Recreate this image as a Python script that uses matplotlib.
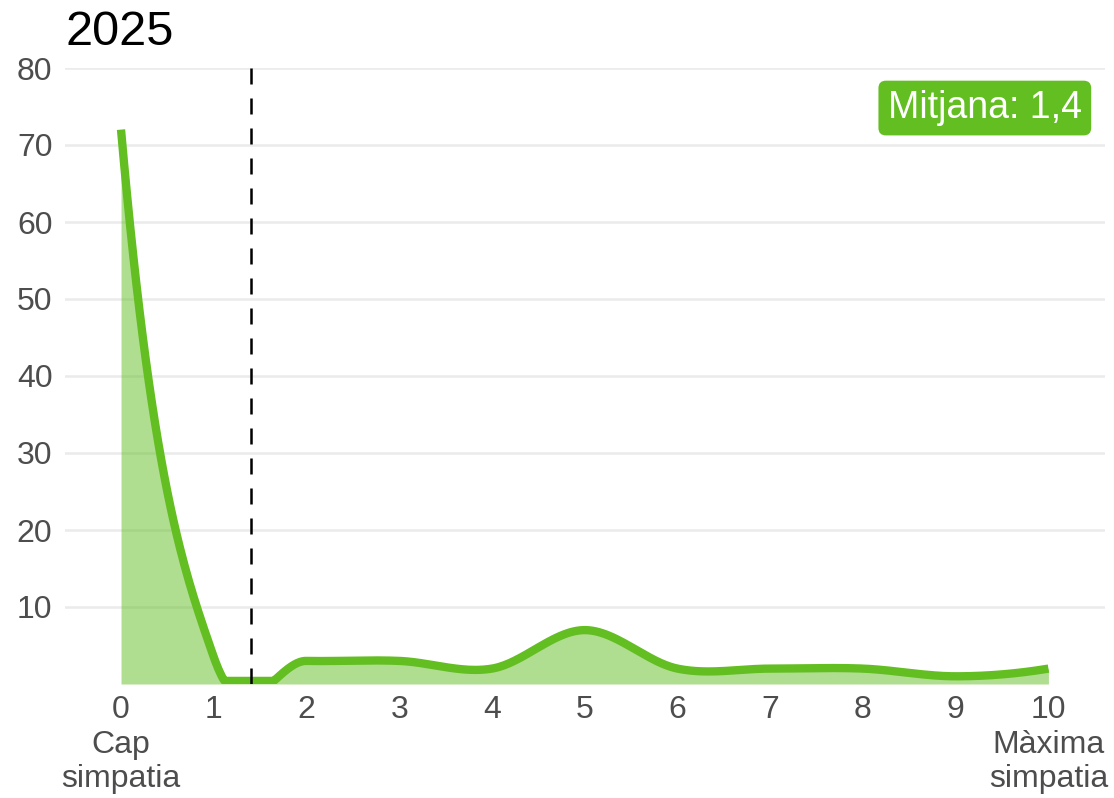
import matplotlib.pyplot as plt
import numpy as np

plt.rcParams['font.family'] = ['Liberation Sans', 'DejaVu Sans']

# Sympathy score (0-10) and % of respondents
scores = np.arange(0, 11)
percent = np.array([72, 3.5, 3, 3, 2, 7, 2, 2, 2, 1, 2], dtype=float)
mean_score = 1.4
mean_label = "Mitjana: 1,4"
title = "2025"
tick_labels = ["0\nCap\nsimpatia", "1", "2", "3", "4", "5", "6", "7", "8", "9", "10\nMàxima\nsimpatia"]
y_ticks = [10, 20, 30, 40, 50, 60, 70, 80]

green = '#63BE22'
grid_col = '#EBEBEB'
text_col = '#4D4D4D'


def catmull_rom(xs, ys, n_per=60):
    # Catmull-Rom style spline; end tangents pushed a bit harder
    xs = np.asarray(xs, float)
    ys = np.asarray(ys, float)
    m = np.zeros_like(ys)
    m[1:-1] = (ys[2:] - ys[:-2]) / (xs[2:] - xs[:-2])
    m[0] = 2 * (ys[1] - ys[0]) / (xs[1] - xs[0])
    m[-1] = 2 * (ys[-1] - ys[-2]) / (xs[-1] - xs[-2])
    out_x, out_y = [], []
    for i in range(len(xs) - 1):
        h = xs[i + 1] - xs[i]
        t = np.linspace(0, 1, n_per, endpoint=(i == len(xs) - 2))
        h00 = 2 * t**3 - 3 * t**2 + 1
        h10 = t**3 - 2 * t**2 + t
        h01 = -2 * t**3 + 3 * t**2
        h11 = t**3 - t**2
        out_x.append(xs[i] + t * h)
        out_y.append(h00 * ys[i] + h10 * h * m[i] + h01 * ys[i + 1] + h11 * h * m[i + 1])
    return np.concatenate(out_x), np.concatenate(out_y)


xs, ys = catmull_rom(scores, percent)
ys = np.clip(ys, 0.4, None)

fig = plt.figure(figsize=(11.14, 7.98), dpi=100)
ax = fig.add_axes([65 / 1114, 1 - 684 / 798, (1105 - 65) / 1114, (684 - 68) / 798])

ax.fill_between(xs, 0, ys, color=green, alpha=0.5, linewidth=0)
ax.plot(xs, ys, color=green, linewidth=6, solid_capstyle='butt')
ax.axvline(mean_score, color='black', linewidth=1.8, dashes=(6.4, 5.6))

ax.set_xlim(-0.604, 10.61)
ax.set_ylim(0, 80)
ax.set_yticks(y_ticks)
ax.set_xticks(scores)
ax.set_xticklabels(tick_labels, va='top', linespacing=1.2)
ax.yaxis.grid(True, color=grid_col, linewidth=1.8)
ax.set_axisbelow(True)
ax.tick_params(axis='both', length=0, labelsize=23, labelcolor=text_col)
ax.tick_params(axis='y', pad=9)
ax.tick_params(axis='x', pad=8)
for s in ax.spines.values():
    s.set_visible(False)

ax.text(10.36, 74.8, mean_label, ha='right', va='center', color='white', fontsize=27,
        bbox=dict(boxstyle='round,pad=0.25,rounding_size=0.2', fc=green, ec='none'))

fig.text(65 / 1114, 1 - 45 / 798, title, fontsize=35, color='black', va='baseline', ha='left')

fig.savefig('out.png', dpi=100)
